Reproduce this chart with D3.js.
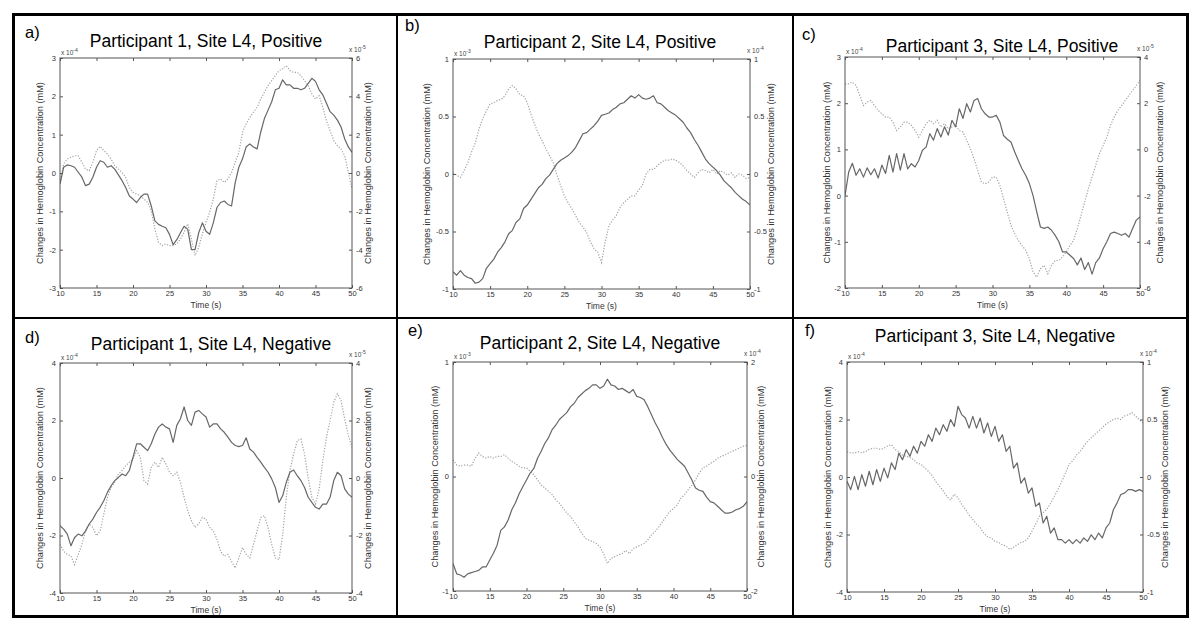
<!DOCTYPE html>
<html><head><meta charset="utf-8">
<script src="https://cdn.jsdelivr.net/npm/d3@7"></script>
<style>body{margin:0;background:#fff;} svg{display:block;font-family:"Liberation Sans",Arial,Helvetica,sans-serif;}</style>
</head><body><svg id="chart" width="1200" height="635"></svg>
<script>
// ---------------- DATA ----------------
const time = [10,10.5,11,11.5,12,12.5,13,13.5,14,14.5,15,15.5,16,16.5,17,17.5,18,18.5,19,19.5,
 20,20.5,21,21.5,22,22.5,23,23.5,24,24.5,25,25.5,26,26.5,27,27.5,28,28.5,29,29.5,
 30,30.5,31,31.5,32,32.5,33,33.5,34,34.5,35,35.5,36,36.5,37,37.5,38,38.5,39,39.5,
 40,40.5,41,41.5,42,42.5,43,43.5,44,44.5,45,45.5,46,46.5,47,47.5,48,48.5,49,49.5,50];
const xTicks = [10,15,20,25,30,35,40,45,50];

// Panel a: Participant 1, Positive (solid: left axis x1e-4, dotted: right axis x1e-5)
const aSolid = [-0.29,0.15,0.21,0.19,0.15,0.02,-0.11,-0.33,-0.29,-0.11,
 0.15,0.32,0.28,0.15,0.19,0.1,-0.05,-0.2,-0.38,-0.6,
 -0.68,-0.77,-0.64,-0.55,-0.55,-0.86,-1.25,-1.34,-1.39,-1.43,
 -1.6,-1.87,-1.74,-1.56,-1.39,-1.47,-2.0,-2.0,-1.56,-1.3,
 -1.52,-1.6,-1.3,-0.9,-0.77,-0.73,-0.82,-0.86,-0.25,0.15,
 0.37,0.68,0.76,0.68,0.63,1.07,1.42,1.64,1.86,2.17,
 2.21,2.43,2.3,2.3,2.21,2.21,2.17,2.21,2.34,2.47,
 2.39,2.17,2.04,1.82,1.6,1.51,1.38,1.2,0.89,0.68,
 0.54];
const aDotted = [-0.5,0.47,0.73,0.82,0.9,0.9,0.56,0.2,0.12,0.56,
 1.17,1.39,1.17,0.99,0.73,0.38,0.2,0.03,-0.23,-0.75,
 -1.0,-1.1,-1.18,-1.36,-1.53,-1.97,-2.92,-3.62,-3.79,-3.7,
 -3.79,-3.79,-3.7,-3.44,-3.1,-2.66,-3.44,-4.31,-3.88,-3.18,
 -2.57,-2.05,-1.36,-0.4,-0.31,-0.49,-0.31,0.03,0.56,1.08,
 2.12,2.56,2.9,3.17,3.43,3.86,4.21,4.56,4.82,5.08,
 5.34,5.43,5.6,5.34,5.25,5.25,5.08,4.82,4.56,4.12,
 3.86,4.03,3.43,2.73,2.21,1.69,1.43,1.25,0.9,0.03,
 -0.83];
const aLeftTicks = [-3,-2,-1,0,1,2,3];
const aRightTicks = [-6,-4,-2,0,2,4,6];

// Panel b: Participant 2, Positive (left x1e-3, right x1e-4)
const bSolid = [-0.85,-0.88,-0.84,-0.88,-0.9,-0.91,-0.95,-0.94,-0.91,-0.82,
 -0.78,-0.74,-0.68,-0.64,-0.59,-0.52,-0.49,-0.42,-0.39,-0.3,
 -0.27,-0.22,-0.17,-0.12,-0.09,-0.04,-0.01,0.04,0.09,0.12,
 0.14,0.16,0.19,0.23,0.29,0.35,0.36,0.39,0.42,0.46,
 0.51,0.52,0.53,0.56,0.58,0.61,0.62,0.65,0.68,0.66,
 0.69,0.66,0.65,0.66,0.68,0.62,0.61,0.58,0.55,0.53,
 0.51,0.48,0.45,0.4,0.36,0.3,0.25,0.19,0.13,0.09,
 0.06,0.03,-0.01,-0.06,-0.09,-0.12,-0.16,-0.19,-0.22,-0.24,
 -0.27];
const bDotted = [0.01,-0.01,-0.03,0.03,0.1,0.19,0.27,0.39,0.48,0.55,
 0.61,0.62,0.64,0.65,0.68,0.74,0.77,0.74,0.69,0.68,
 0.62,0.52,0.43,0.35,0.29,0.22,0.16,0.1,-0.01,-0.1,
 -0.19,-0.25,-0.3,-0.36,-0.42,-0.46,-0.51,-0.59,-0.65,-0.68,
 -0.77,-0.59,-0.45,-0.4,-0.36,-0.29,-0.25,-0.22,-0.19,-0.19,
 -0.14,-0.1,0.0,0.04,0.04,0.07,0.1,0.12,0.12,0.13,
 0.12,0.1,0.07,0.03,0.0,-0.03,0.01,0.04,0.03,0.01,
 0.04,0.0,0.03,0.01,-0.01,0.01,-0.03,0.0,-0.01,-0.04,
 -0.03];
const bLeftTicks = [-1,-0.5,0,0.5,1];
const bRightTicks = [-1,-0.5,0,0.5,1];

// Panel c: Participant 3, Positive (left x1e-4, right x1e-5)
const cSolid = [0.0,0.51,0.7,0.44,0.58,0.4,0.6,0.45,0.58,0.38,
 0.66,0.48,0.87,0.51,0.91,0.55,0.91,0.58,0.69,0.62,
 0.76,0.98,1.05,1.34,1.2,1.45,1.27,1.49,1.31,1.63,
 1.49,1.88,1.67,1.99,1.81,2.06,2.1,1.88,1.77,1.7,
 1.7,1.74,1.59,1.3,1.22,1.16,0.95,0.76,0.58,0.44,
 0.26,0.0,-0.35,-0.68,-0.71,-0.68,-0.75,-0.86,-1.0,-1.22,
 -1.22,-1.29,-1.36,-1.5,-1.35,-1.6,-1.45,-1.7,-1.45,-1.35,
 -1.15,-1.0,-0.82,-0.79,-0.82,-0.86,-0.82,-0.9,-0.71,-0.53,
 -0.46];
const cDotted = [2.84,2.84,2.91,2.77,2.34,1.9,2.05,2.12,1.9,1.69,
 1.54,1.4,1.4,1.18,0.82,0.97,1.18,1.18,1.04,0.82,
 0.53,0.82,1.11,1.26,1.11,1.26,0.97,1.11,0.89,0.97,
 1.04,0.82,0.75,0.39,0.03,-0.4,-0.91,-1.41,-1.49,-1.41,
 -1.2,-1.2,-1.56,-2.14,-2.71,-3.29,-3.65,-3.94,-4.16,-4.37,
 -4.73,-5.31,-5.53,-5.17,-5.02,-5.38,-5.02,-4.81,-4.81,-4.66,
 -4.44,-4.16,-3.94,-3.43,-2.86,-2.28,-1.7,-1.2,-0.69,-0.19,
 0.17,0.53,1.04,1.4,1.69,1.9,2.12,2.34,2.55,2.77,
 2.99];
const cLeftTicks = [-2,-1,0,1,2,3];
const cRightTicks = [-6,-4,-2,0,2,4];

// Panel d: Participant 1, Negative (left x1e-4, right x1e-5)
const dSolid = [-1.66,-1.78,-1.95,-2.36,-2.07,-1.95,-2.01,-1.84,-1.6,-1.43,
 -1.2,-1.02,-0.79,-0.5,-0.27,-0.09,0.02,0.14,0.08,0.26,
 0.72,1.19,1.19,1.07,0.95,1.19,1.53,1.77,1.88,1.77,
 1.71,1.24,1.83,2.06,2.47,2.0,1.83,2.29,2.35,2.23,
 2.12,1.77,1.88,1.88,1.71,1.59,1.42,1.24,1.13,1.09,
 1.13,1.4,1.01,0.9,0.72,0.55,0.37,0.2,-0.03,-0.33,
 -0.85,-0.62,-0.15,0.2,0.28,0.08,-0.09,-0.33,-0.67,-0.85,
 -1.02,-1.08,-0.91,-0.91,-0.67,-0.09,0.2,0.08,-0.38,-0.56,
 -0.67];
const dDotted = [-2.31,-2.55,-2.66,-2.71,-3.01,-2.66,-2.31,-1.84,-1.6,-1.72,
 -2.01,-1.84,-1.26,-0.67,-0.33,-0.15,0.14,0.26,0.43,0.55,
 0.66,0.95,0.72,-0.09,-0.21,0.37,0.55,0.37,0.72,0.49,
 0.2,0.08,0.2,-0.15,-0.67,-1.14,-1.49,-1.72,-1.6,-1.37,
 -1.43,-1.72,-1.84,-2.13,-2.55,-2.72,-2.66,-2.9,-3.13,-2.78,
 -2.42,-2.66,-2.78,-2.31,-1.84,-1.37,-1.31,-1.72,-2.31,-2.78,
 -2.84,-1.97,-0.67,0.26,0.83,1.3,1.36,0.83,0.0,-0.67,
 -0.91,-0.38,0.6,1.41,2.0,2.64,2.93,2.7,2.05,1.48,
 1.07];
const dLeftTicks = [-4,-2,0,2,4];
const dRightTicks = [-4,-2,0,2,4];

// Panel e: Participant 2, Negative (left x1e-3, right x1e-4)
const eSolid = [-0.76,-0.85,-0.86,-0.88,-0.85,-0.84,-0.83,-0.82,-0.79,-0.79,
 -0.73,-0.67,-0.6,-0.47,-0.44,-0.38,-0.29,-0.23,-0.15,-0.09,
 -0.03,0.03,0.07,0.16,0.22,0.29,0.34,0.41,0.45,0.5,
 0.53,0.56,0.61,0.64,0.69,0.72,0.75,0.77,0.8,0.8,
 0.77,0.79,0.85,0.8,0.79,0.76,0.77,0.75,0.73,0.76,
 0.7,0.69,0.67,0.61,0.54,0.47,0.41,0.34,0.28,0.23,
 0.19,0.15,0.12,0.09,0.03,-0.03,-0.1,-0.12,-0.13,-0.18,
 -0.22,-0.23,-0.26,-0.29,-0.32,-0.32,-0.31,-0.29,-0.28,-0.26,
 -0.22];
const eDotted = [0.29,0.2,0.18,0.2,0.2,0.18,0.32,0.41,0.35,0.32,
 0.35,0.32,0.35,0.35,0.38,0.32,0.26,0.23,0.18,0.15,
 0.15,0.09,0.03,-0.06,-0.15,-0.2,-0.26,-0.32,-0.41,-0.47,
 -0.56,-0.64,-0.7,-0.79,-0.88,-0.99,-1.08,-1.11,-1.14,-1.17,
 -1.23,-1.35,-1.52,-1.43,-1.4,-1.37,-1.35,-1.29,-1.35,-1.26,
 -1.23,-1.2,-1.17,-1.11,-1.02,-0.96,-0.88,-0.79,-0.7,-0.61,
 -0.56,-0.5,-0.38,-0.32,-0.23,-0.15,-0.06,0.06,0.15,0.18,
 0.23,0.26,0.32,0.35,0.38,0.41,0.44,0.47,0.5,0.53,
 0.54];
const eLeftTicks = [-1,0,1];
const eRightTicks = [-2,0,2];

// Panel f: Participant 3, Negative (left x1e-4, right x1e-4)
const fSolid = [-0.15,-0.44,0.02,-0.44,0.08,-0.32,0.2,-0.27,0.26,-0.15,
 0.31,-0.03,0.49,0.26,0.83,0.6,0.95,0.72,1.07,0.83,
 1.24,1.07,1.47,1.24,1.7,1.47,1.82,1.59,2.0,1.76,
 2.46,2.17,2.05,1.7,2.11,1.7,2.05,1.53,1.88,1.41,
 1.76,1.24,1.47,0.89,1.07,0.31,0.49,-0.21,-0.03,-0.56,
 -0.38,-1.02,-0.9,-1.6,-1.37,-1.95,-1.77,-2.18,-2.18,-2.3,
 -2.18,-2.32,-2.18,-2.3,-2.12,-2.24,-2.01,-2.18,-1.95,-2.12,
 -1.77,-1.6,-1.14,-0.9,-0.61,-0.56,-0.44,-0.44,-0.5,-0.44,
 -0.5];
const fDotted = [0.22,0.21,0.21,0.22,0.21,0.22,0.24,0.25,0.25,0.24,
 0.25,0.27,0.28,0.24,0.22,0.19,0.18,0.17,0.15,0.12,
 0.11,0.08,0.05,0.01,-0.04,-0.08,-0.12,-0.17,-0.2,-0.15,
 -0.18,-0.24,-0.28,-0.33,-0.37,-0.41,-0.44,-0.49,-0.52,-0.53,
 -0.56,-0.57,-0.59,-0.6,-0.63,-0.61,-0.59,-0.57,-0.56,-0.53,
 -0.47,-0.41,-0.34,-0.31,-0.28,-0.23,-0.17,-0.11,-0.04,0.03,
 0.11,0.14,0.19,0.22,0.27,0.31,0.34,0.37,0.4,0.43,
 0.46,0.48,0.5,0.51,0.5,0.53,0.54,0.56,0.53,0.5,
 0.47];
const fLeftTicks = [-4,-2,0,2,4];
const fRightTicks = [-1,-0.5,0,0.5,1];

const letters = ["a)","b)","c)","d)","e)","f)"];
const titles = ["Participant 1, Site L4, Positive","Participant 2, Site L4, Positive","Participant 3, Site L4, Positive",
 "Participant 1, Site L4, Negative","Participant 2, Site L4, Negative","Participant 3, Site L4, Negative"];
const leftExps = ["-4","-3","-4","-4","-3","-4"];
const rightExps = ["-5","-4","-5","-5","-4","-4"];
const yLabel = "Changes in Hemoglobin Concentration (mM)";
const xLabel = "Time (s)";

const panels = [
 {solid:aSolid, dotted:aDotted, lt:aLeftTicks, rt:aRightTicks},
 {solid:bSolid, dotted:bDotted, lt:bLeftTicks, rt:bRightTicks},
 {solid:cSolid, dotted:cDotted, lt:cLeftTicks, rt:cRightTicks},
 {solid:dSolid, dotted:dDotted, lt:dLeftTicks, rt:dRightTicks},
 {solid:eSolid, dotted:eDotted, lt:eLeftTicks, rt:eRightTicks},
 {solid:fSolid, dotted:fDotted, lt:fLeftTicks, rt:fRightTicks}
];

// ---------------- LAYOUT ----------------
const layout = [
 {x0:60, x1:352, y0:58, y1:288, lx:25, ly:38, tx:206, ty:47, labL:41, labR:369},
 {x0:453, x1:750, y0:59, y1:289, lx:405, ly:31, tx:600, ty:48, labL:428, labR:772},
 {x0:845, x1:1140, y0:57, y1:288, lx:802, ly:40, tx:1002, ty:52, labL:828, labR:1161},
 {x0:60, x1:352, y0:363, y1:593, lx:25, ly:343, tx:211, ty:350, labL:41, labR:369},
 {x0:453, x1:747, y0:362, y1:591, lx:408, ly:336, tx:600, ty:349, labL:436, labR:762},
 {x0:847, x1:1143, y0:362, y1:592, lx:805, ly:336, tx:995, ty:342, labL:829, labR:1166}
];

const svg = d3.select("#chart");
svg.append("rect").attr("width",1200).attr("height",635).attr("fill","#fff");

const axisColor = "#555";
const textColor = "#333";

panels.forEach((p, k) => {
  const L = layout[k];
  const g = svg.append("g");
  const x = d3.scaleLinear().domain([10,50]).range([L.x0, L.x1]);
  const yL = d3.scaleLinear().domain(d3.extent(p.lt)).range([L.y1, L.y0]);
  const yR = d3.scaleLinear().domain(d3.extent(p.rt)).range([L.y1, L.y0]);

  const clipId = "clip"+k;
  g.append("clipPath").attr("id",clipId).append("rect")
    .attr("x",L.x0).attr("y",L.y0).attr("width",L.x1-L.x0).attr("height",L.y1-L.y0);

  const lineL = d3.line().x((d,i)=>x(time[i])).y(d=>yL(d));
  const lineR = d3.line().x((d,i)=>x(time[i])).y(d=>yR(d));

  g.append("path").attr("clip-path",`url(#${clipId})`).attr("d", lineR(p.dotted))
    .attr("fill","none").attr("stroke","#a2a2a2").attr("stroke-width",1.2)
    .attr("stroke-dasharray","1.2,1.6");
  g.append("path").attr("clip-path",`url(#${clipId})`).attr("d", lineL(p.solid))
    .attr("fill","none").attr("stroke","#676767").attr("stroke-width",1.2)
    .attr("stroke-linejoin","round");

  const fmt = d => String(d).replace("−","-");
  const styleAxis = sel => {
    sel.select(".domain").remove();
    sel.selectAll("line").attr("stroke",axisColor);
    sel.selectAll("text").attr("fill",textColor).attr("font-size",7.5)
      .attr("font-family",'"Liberation Sans",Arial,sans-serif');
  };
  g.append("g").attr("transform",`translate(0,${L.y1})`)
    .call(d3.axisBottom(x).tickValues(xTicks).tickSize(-3).tickPadding(3).tickFormat(fmt)).call(styleAxis);
  g.append("g").attr("transform",`translate(0,${L.y0})`)
    .call(d3.axisTop(x).tickValues(xTicks).tickSize(-3).tickFormat("")).call(styleAxis);
  g.append("g").attr("transform",`translate(${L.x0},0)`)
    .call(d3.axisLeft(yL).tickValues(p.lt).tickSize(-3).tickPadding(4).tickFormat(fmt)).call(styleAxis);
  g.append("g").attr("transform",`translate(${L.x1},0)`)
    .call(d3.axisRight(yR).tickValues(p.rt).tickSize(-3).tickPadding(4).tickFormat(fmt)).call(styleAxis);

  g.append("rect").attr("x",L.x0).attr("y",L.y0).attr("width",L.x1-L.x0).attr("height",L.y1-L.y0)
    .attr("fill","none").attr("stroke",axisColor).attr("stroke-width",1);

  // exponents
  const exL = g.append("text").attr("x",L.x0+1).attr("y",L.y0-3).attr("font-size",6.5).attr("fill","#444");
  exL.append("tspan").text("x 10");
  exL.append("tspan").attr("dy",-3).attr("font-size",5).text(leftExps[k]);
  const exR = g.append("text").attr("x",L.x1-3).attr("y",L.y0-6).attr("font-size",6.5).attr("fill","#444");
  exR.append("tspan").text("x 10");
  exR.append("tspan").attr("dy",-3).attr("font-size",5).text(rightExps[k]);

  // axis labels
  const my = (L.y0+L.y1)/2;
  [L.labL, L.labR].forEach(lx => {
    g.append("text").attr("transform",`translate(${lx},${my}) rotate(-90)`)
      .attr("text-anchor","middle").attr("dominant-baseline","middle")
      .attr("font-size",9.2).attr("fill",textColor).text(yLabel);
  });
  g.append("text").attr("x",(L.x0+L.x1)/2).attr("y",L.y1+20).attr("text-anchor","middle")
    .attr("font-size",8.5).attr("fill",textColor).text(xLabel);

  // title and letter
  g.append("text").attr("x",L.tx).attr("y",L.ty).attr("text-anchor","middle")
    .attr("font-size",17.5).attr("fill","#000").text(titles[k]);
  g.append("text").attr("x",L.lx).attr("y",L.ly)
    .attr("font-size",16.5).attr("fill","#000").text(letters[k]);
});

// frame
svg.append("rect").attr("x",13.5).attr("y",14.5).attr("width",1174).attr("height",602)
  .attr("fill","none").attr("stroke","#000").attr("stroke-width",3);
svg.append("line").attr("x1",397).attr("x2",397).attr("y1",14).attr("y2",617).attr("stroke","#000").attr("stroke-width",2);
svg.append("line").attr("x1",793).attr("x2",793).attr("y1",14).attr("y2",617).attr("stroke","#000").attr("stroke-width",2);
svg.append("line").attr("x1",13).attr("x2",1188).attr("y1",318).attr("y2",318).attr("stroke","#000").attr("stroke-width",2);
</script></body></html>
